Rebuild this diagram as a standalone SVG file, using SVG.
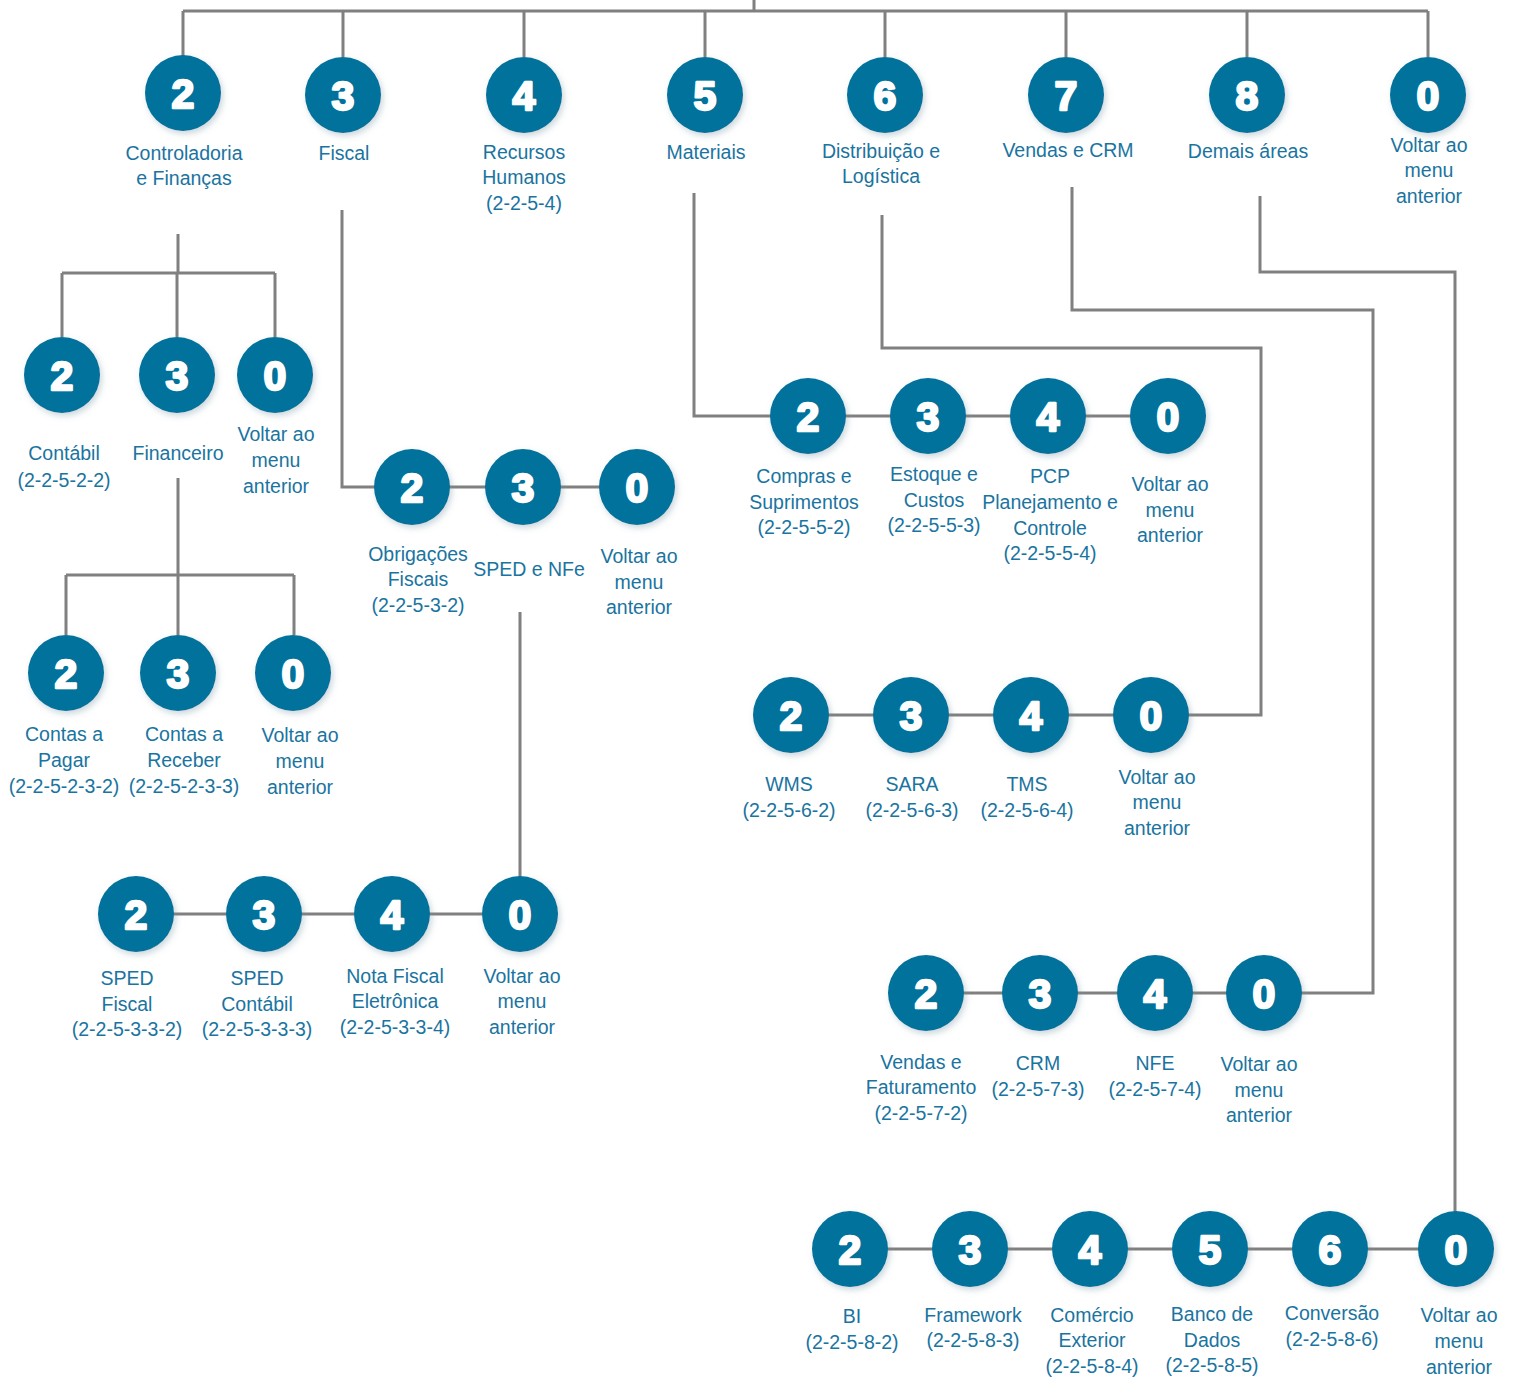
<svg xmlns="http://www.w3.org/2000/svg" width="1515" height="1379" viewBox="0 0 1515 1379">
<defs>
<filter id="sh" x="-30%" y="-30%" width="170%" height="170%">
<feDropShadow dx="2" dy="3" stdDeviation="3" flood-color="#6a8a9a" flood-opacity="0.35"/>
</filter>
<style>
.c{fill:#03729b;filter:url(#sh)}
.d{fill:#fff;stroke:#fff;stroke-width:2.4;stroke-linejoin:round;font-family:"Liberation Sans",Arial,sans-serif;font-weight:bold;font-size:41px;text-anchor:middle}
.t{fill:#1a74a0;font-family:"Liberation Sans",Arial,sans-serif;font-size:19.5px;text-anchor:middle}
.ln{fill:none;stroke:#808080;stroke-width:3}
</style>
</defs>
<rect width="1515" height="1379" fill="#fff"/>
<g id="connectors" class="ln">
<path d="M754,0 V11 M183,11 H1428 M183,11 V57 M343,11 V57 M524,11 V57 M705,11 V57 M885,11 V57 M1066,11 V57 M1247,11 V57 M1428,11 V57"/>
<path d="M178,234 V273 M62,273 H275 M62,273 V337 M177,273 V337 M275,273 V337"/>
<path d="M178,478 V575 M66,575 H294 M66,575 V635 M178,575 V635 M294,575 V635"/>
<path d="M342,210 V487 H637"/>
<path d="M520,612 V914 M136,914 H520"/>
<path d="M694,193 V416 H1168"/>
<path d="M882,215 V348 H1261 V715 H791"/>
<path d="M1072,187 V310 H1373 V993 H926"/>
<path d="M1260,196 V272 H1455 V1249 H850"/>
</g>
<g id="n-top-2"><circle class="c" cx="183" cy="93" r="38"/><text class="d" x="183" y="108">2</text><text class="t" x="184" y="160">Controladoria<tspan x="184" dy="25">e Finanças</tspan></text></g>
<g id="n-top-3"><circle class="c" cx="343" cy="95" r="38"/><text class="d" x="343" y="110">3</text><text class="t" x="344" y="160">Fiscal</text></g>
<g id="n-top-4"><circle class="c" cx="524" cy="95" r="38"/><text class="d" x="524" y="110">4</text><text class="t" x="524" y="159">Recursos<tspan x="524" dy="25">Humanos</tspan><tspan x="524" dy="26">(2-2-5-4)</tspan></text></g>
<g id="n-top-5"><circle class="c" cx="705" cy="95" r="38"/><text class="d" x="705" y="110">5</text><text class="t" x="706" y="159">Materiais</text></g>
<g id="n-top-6"><circle class="c" cx="885" cy="95" r="38"/><text class="d" x="885" y="110">6</text><text class="t" x="881" y="158">Distribuição e<tspan x="881" dy="25">Logística</tspan></text></g>
<g id="n-top-7"><circle class="c" cx="1066" cy="95" r="38"/><text class="d" x="1066" y="110">7</text><text class="t" x="1068" y="157">Vendas e CRM</text></g>
<g id="n-top-8"><circle class="c" cx="1247" cy="95" r="38"/><text class="d" x="1247" y="110">8</text><text class="t" x="1248" y="158">Demais áreas</text></g>
<g id="n-top-0"><circle class="c" cx="1428" cy="95" r="38"/><text class="d" x="1428" y="110">0</text><text class="t" x="1429" y="152">Voltar ao<tspan x="1429" dy="25">menu</tspan><tspan x="1429" dy="26">anterior</tspan></text></g>

<g id="n-cf-2"><circle class="c" cx="62" cy="375" r="38"/><text class="d" x="62" y="390">2</text><text class="t" x="64" y="460">Contábil<tspan x="64" dy="27">(2-2-5-2-2)</tspan></text></g>
<g id="n-cf-3"><circle class="c" cx="177" cy="375" r="38"/><text class="d" x="177" y="390">3</text><text class="t" x="178" y="460">Financeiro</text></g>
<g id="n-cf-0"><circle class="c" cx="275" cy="375" r="38"/><text class="d" x="275" y="390">0</text><text class="t" x="276" y="441">Voltar ao<tspan x="276" dy="26">menu</tspan><tspan x="276" dy="26">anterior</tspan></text></g>

<g id="n-fin-2"><circle class="c" cx="66" cy="673" r="38"/><text class="d" x="66" y="688">2</text><text class="t" x="64" y="741">Contas a<tspan x="64" dy="26">Pagar</tspan><tspan x="64" dy="26">(2-2-5-2-3-2)</tspan></text></g>
<g id="n-fin-3"><circle class="c" cx="178" cy="673" r="38"/><text class="d" x="178" y="688">3</text><text class="t" x="184" y="741">Contas a<tspan x="184" dy="26">Receber</tspan><tspan x="184" dy="26">(2-2-5-2-3-3)</tspan></text></g>
<g id="n-fin-0"><circle class="c" cx="293" cy="673" r="38"/><text class="d" x="293" y="688">0</text><text class="t" x="300" y="742">Voltar ao<tspan x="300" dy="26">menu</tspan><tspan x="300" dy="26">anterior</tspan></text></g>

<g id="n-fis-2"><circle class="c" cx="412" cy="487" r="38"/><text class="d" x="412" y="502">2</text><text class="t" x="418" y="561">Obrigações<tspan x="418" dy="25">Fiscais</tspan><tspan x="418" dy="26">(2-2-5-3-2)</tspan></text></g>
<g id="n-fis-3"><circle class="c" cx="523" cy="487" r="38"/><text class="d" x="523" y="502">3</text><text class="t" x="529" y="576">SPED e NFe</text></g>
<g id="n-fis-0"><circle class="c" cx="637" cy="487" r="38"/><text class="d" x="637" y="502">0</text><text class="t" x="639" y="563">Voltar ao<tspan x="639" dy="26">menu</tspan><tspan x="639" dy="25">anterior</tspan></text></g>

<g id="n-sped-2"><circle class="c" cx="136" cy="914" r="38"/><text class="d" x="136" y="929">2</text><text class="t" x="127" y="985">SPED<tspan x="127" dy="26">Fiscal</tspan><tspan x="127" dy="25">(2-2-5-3-3-2)</tspan></text></g>
<g id="n-sped-3"><circle class="c" cx="264" cy="914" r="38"/><text class="d" x="264" y="929">3</text><text class="t" x="257" y="985">SPED<tspan x="257" dy="26">Contábil</tspan><tspan x="257" dy="25">(2-2-5-3-3-3)</tspan></text></g>
<g id="n-sped-4"><circle class="c" cx="392" cy="914" r="38"/><text class="d" x="392" y="929">4</text><text class="t" x="395" y="983">Nota Fiscal<tspan x="395" dy="25">Eletrônica</tspan><tspan x="395" dy="26">(2-2-5-3-3-4)</tspan></text></g>
<g id="n-sped-0"><circle class="c" cx="520" cy="914" r="38"/><text class="d" x="520" y="929">0</text><text class="t" x="522" y="983">Voltar ao<tspan x="522" dy="25">menu</tspan><tspan x="522" dy="26">anterior</tspan></text></g>

<g id="n-mat-2"><circle class="c" cx="808" cy="416" r="38"/><text class="d" x="808" y="431">2</text><text class="t" x="804" y="483">Compras e<tspan x="804" dy="26">Suprimentos</tspan><tspan x="804" dy="25">(2-2-5-5-2)</tspan></text></g>
<g id="n-mat-3"><circle class="c" cx="928" cy="416" r="38"/><text class="d" x="928" y="431">3</text><text class="t" x="934" y="481">Estoque e<tspan x="934" dy="26">Custos</tspan><tspan x="934" dy="25">(2-2-5-5-3)</tspan></text></g>
<g id="n-mat-4"><circle class="c" cx="1048" cy="416" r="38"/><text class="d" x="1048" y="431">4</text><text class="t" x="1050" y="483">PCP<tspan x="1050" dy="26">Planejamento e</tspan><tspan x="1050" dy="26">Controle</tspan><tspan x="1050" dy="25">(2-2-5-5-4)</tspan></text></g>
<g id="n-mat-0"><circle class="c" cx="1168" cy="416" r="38"/><text class="d" x="1168" y="431">0</text><text class="t" x="1170" y="491">Voltar ao<tspan x="1170" dy="26">menu</tspan><tspan x="1170" dy="25">anterior</tspan></text></g>

<g id="n-dist-2"><circle class="c" cx="791" cy="715" r="38"/><text class="d" x="791" y="730">2</text><text class="t" x="789" y="791">WMS<tspan x="789" dy="26">(2-2-5-6-2)</tspan></text></g>
<g id="n-dist-3"><circle class="c" cx="911" cy="715" r="38"/><text class="d" x="911" y="730">3</text><text class="t" x="912" y="791">SARA<tspan x="912" dy="26">(2-2-5-6-3)</tspan></text></g>
<g id="n-dist-4"><circle class="c" cx="1031" cy="715" r="38"/><text class="d" x="1031" y="730">4</text><text class="t" x="1027" y="791">TMS<tspan x="1027" dy="26">(2-2-5-6-4)</tspan></text></g>
<g id="n-dist-0"><circle class="c" cx="1151" cy="715" r="38"/><text class="d" x="1151" y="730">0</text><text class="t" x="1157" y="784">Voltar ao<tspan x="1157" dy="25">menu</tspan><tspan x="1157" dy="26">anterior</tspan></text></g>

<g id="n-ven-2"><circle class="c" cx="926" cy="993" r="38"/><text class="d" x="926" y="1008">2</text><text class="t" x="921" y="1069">Vendas e<tspan x="921" dy="25">Faturamento</tspan><tspan x="921" dy="26">(2-2-5-7-2)</tspan></text></g>
<g id="n-ven-3"><circle class="c" cx="1040" cy="993" r="38"/><text class="d" x="1040" y="1008">3</text><text class="t" x="1038" y="1070">CRM<tspan x="1038" dy="26">(2-2-5-7-3)</tspan></text></g>
<g id="n-ven-4"><circle class="c" cx="1155" cy="993" r="38"/><text class="d" x="1155" y="1008">4</text><text class="t" x="1155" y="1070">NFE<tspan x="1155" dy="26">(2-2-5-7-4)</tspan></text></g>
<g id="n-ven-0"><circle class="c" cx="1264" cy="993" r="38"/><text class="d" x="1264" y="1008">0</text><text class="t" x="1259" y="1071">Voltar ao<tspan x="1259" dy="26">menu</tspan><tspan x="1259" dy="25">anterior</tspan></text></g>

<g id="n-dem-2"><circle class="c" cx="850" cy="1249" r="38"/><text class="d" x="850" y="1264">2</text><text class="t" x="852" y="1323">BI<tspan x="852" dy="26">(2-2-5-8-2)</tspan></text></g>
<g id="n-dem-3"><circle class="c" cx="970" cy="1249" r="38"/><text class="d" x="970" y="1264">3</text><text class="t" x="973" y="1322">Framework<tspan x="973" dy="25">(2-2-5-8-3)</tspan></text></g>
<g id="n-dem-4"><circle class="c" cx="1090" cy="1249" r="38"/><text class="d" x="1090" y="1264">4</text><text class="t" x="1092" y="1322">Comércio<tspan x="1092" dy="25">Exterior</tspan><tspan x="1092" dy="26">(2-2-5-8-4)</tspan></text></g>
<g id="n-dem-5"><circle class="c" cx="1210" cy="1249" r="38"/><text class="d" x="1210" y="1264">5</text><text class="t" x="1212" y="1321">Banco de<tspan x="1212" dy="26">Dados</tspan><tspan x="1212" dy="25">(2-2-5-8-5)</tspan></text></g>
<g id="n-dem-6"><circle class="c" cx="1330" cy="1249" r="38"/><text class="d" x="1330" y="1264">6</text><text class="t" x="1332" y="1320">Conversão<tspan x="1332" dy="26">(2-2-5-8-6)</tspan></text></g>
<g id="n-dem-0"><circle class="c" cx="1456" cy="1249" r="38"/><text class="d" x="1456" y="1264">0</text><text class="t" x="1459" y="1322">Voltar ao<tspan x="1459" dy="26">menu</tspan><tspan x="1459" dy="26">anterior</tspan></text></g>
</svg>
